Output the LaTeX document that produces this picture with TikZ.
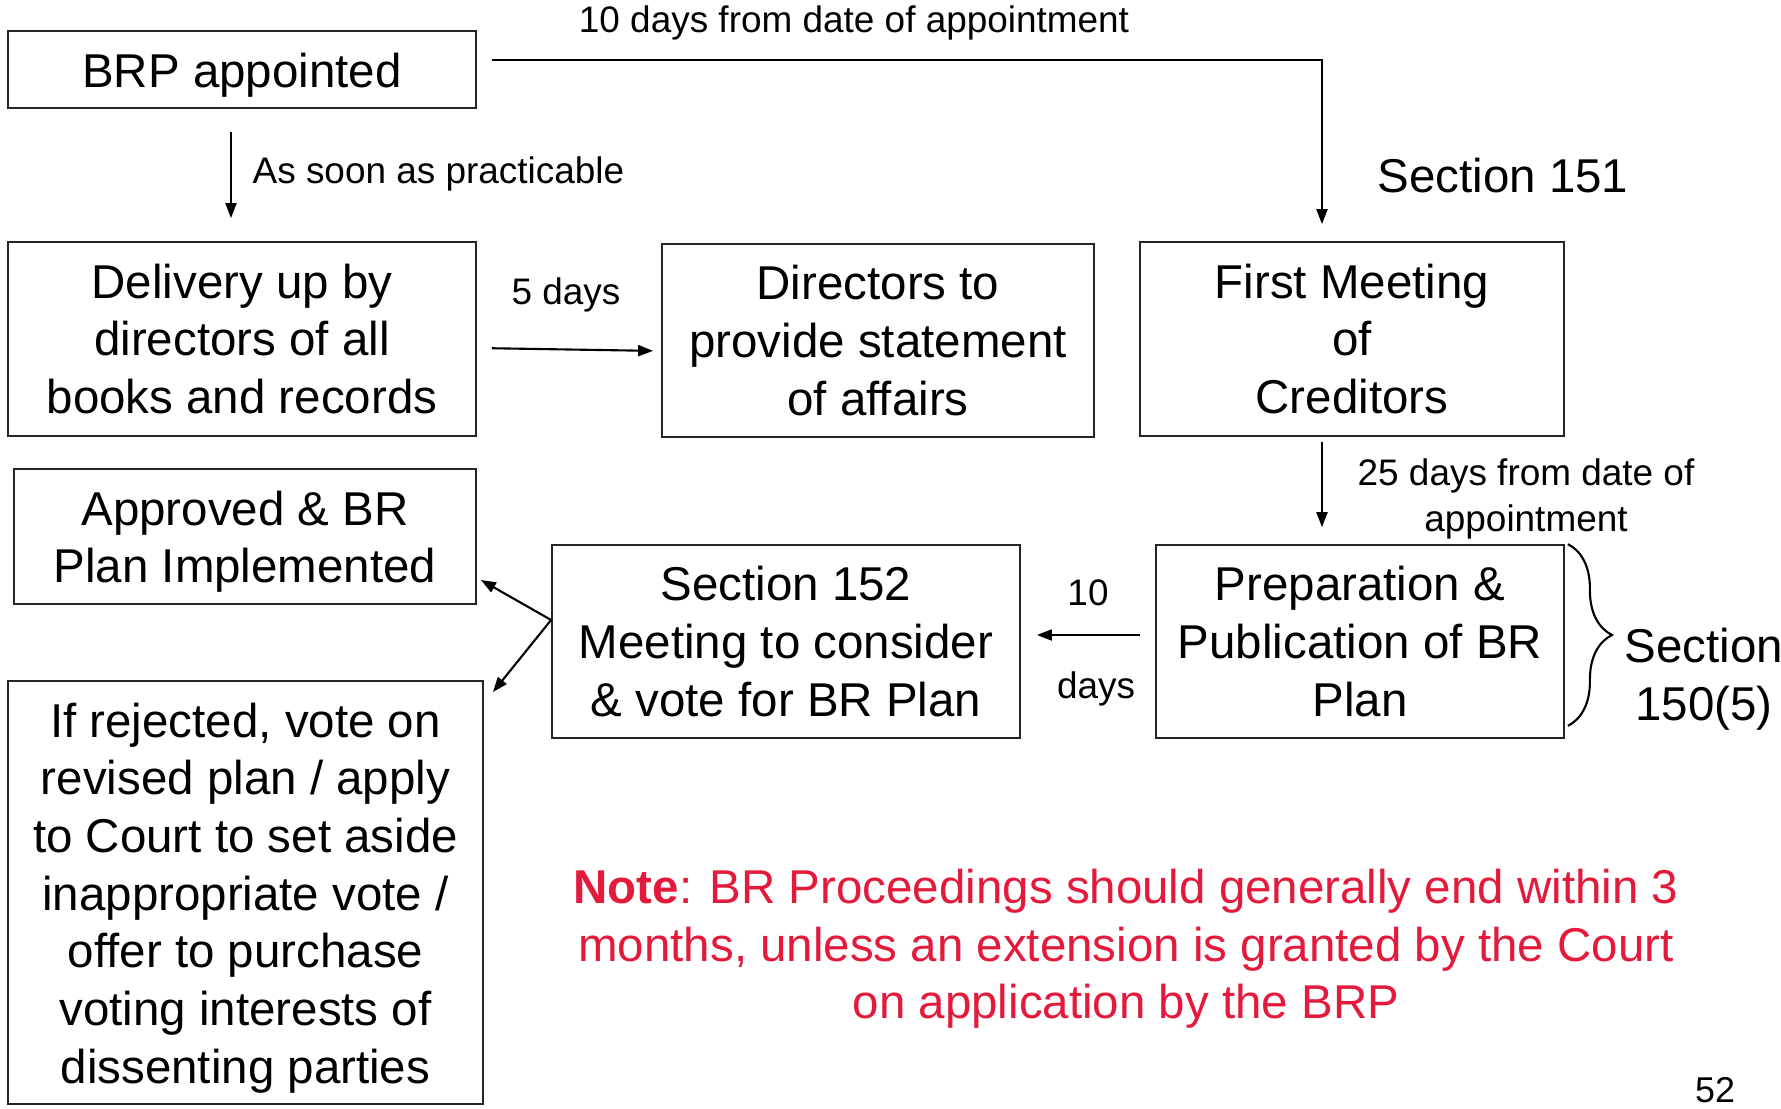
\documentclass[tikz,border=0pt]{standalone}
\usepackage{fontspec}
\setmainfont{Liberation Sans}
\usepackage{tikz}
\usetikzlibrary{arrows.meta,decorations.pathreplacing}
\definecolor{notered}{RGB}{228,26,60}
\newcommand{\topstrut}{\rule{0pt}{0.95em}}
\tikzset{%
    box/.style={draw=black!85, line width=0.45pt, inner sep=0pt, align=center,
        font=\fontsize{13.5}{16.4}\selectfont},
    lbl/.style={inner sep=0pt, align=center, font=\fontsize{10.5}{13.1}\selectfont},
    arr/.style={line width=0.6pt, -{Triangle[length=0.15cm,width=0.11cm]}}
}
\begin{document}
\begin{tikzpicture}[x=0.01cm,y=-0.01cm]
    \useasboundingbox (0,0) rectangle (1781,1109);
%-----------------------------------------------
    \node[box, minimum width=4.68cm, minimum height=0.77cm] (brp) at (242,69.5) {\topstrut BRP appointed};
    \node[box, minimum width=4.68cm, minimum height=1.94cm] (deliv) at (242,339) {Delivery up by\\directors of all\\books and records};
    \node[box, minimum width=4.32cm, minimum height=1.93cm] (dirs) at (878,340.5) {Directors to\\provide statement\\of affairs};
    \node[box, minimum width=4.24cm, minimum height=1.94cm] (fmc) at (1352,339) {First Meeting\\of\\Creditors};
    \node[box, minimum width=4.62cm, minimum height=1.35cm] (appr) at (245,536.5) {\topstrut Approved \& BR\\Plan Implemented};
    \node[box, minimum width=4.68cm, minimum height=1.93cm] (vote) at (786,641.5) {Section 152\\Meeting to consider\\\& vote for BR Plan};
    \node[box, minimum width=4.08cm, minimum height=1.93cm] (prep) at (1360,641.5) {Preparation \&\\Publication of BR\\Plan};
    \node[box, minimum width=4.75cm, minimum height=4.23cm] (rej) at (245.5,892.5) {\topstrut If rejected, vote on\\revised plan / apply\\to Court to set aside\\inappropriate vote /\\offer to purchase\\voting interests of\\dissenting parties};
%-----------------------------------------------
    \draw[arr, shorten <=0.23cm, shorten >=0.23cm] ([xshift=-0.11cm]brp.south) -- ([xshift=-0.11cm]deliv.north);
    \draw[arr, shorten <=0.15cm, shorten >=0.17cm] ([yshift=0.095cm]brp.east) -| ([xshift=-0.3cm]fmc.north);
    \draw[arr, shorten <=0.15cm, shorten >=0.08cm] ([yshift=-0.09cm]deliv.east) -- ([yshift=-0.105cm]dirs.west);
    \draw[arr, shorten <=0.05cm, shorten >=0.17cm] ([xshift=-0.3cm]fmc.south) -- ([xshift=-0.3cm]fmc.south |- prep.north);
    \draw[arr, shorten <=0.15cm, shorten >=0.16cm] ([yshift=0.065cm]prep.west) -- ([yshift=0.065cm]vote.east);
    \coordinate (split) at ([yshift=0.215cm]vote.west);
    \draw[arr] (split) -- ([shift={(4,43.5)}]appr.east);
    \draw[arr] (split) -- ([shift={(9,12)}]rej.north east);
%-----------------------------------------------
    \draw[line width=0.6pt, decorate, decoration={brace, amplitude=0.44cm}]
        ([xshift=0.03cm]prep.north east) -- ([shift={(3,-13)}]prep.south east);
%-----------------------------------------------
    \node[lbl] (l10top) at (854,23) {10 days from date of appointment};
    \node[lbl, anchor=west] (lsoon) at (252,174) {As soon as practicable};
    \node[lbl] (l5) at (566,295) {5 days};
    \node[lbl] (l25) at (1526,499) {25 days from date of\\appointment};
    \node[lbl] (l10) at (1088,593) {10};
    \node[lbl] (ldays) at (1096,689) {days};
    \node[box, draw=none] (s151) at (1503,176) {Section 151};
    \node[box, draw=none] (s150) at (1704,679) {Section\\150(5)};
    \node[box, draw=none, text=notered] (note) at (1126,949) {\textbf{Note}: BR Proceedings should generally end within 3\\months, unless an extension is granted by the Court\\on application by the BRP};
    \node[inner sep=0pt, font=\fontsize{10.2}{12}\selectfont] (page) at (1715,1090) {52};
\end{tikzpicture}
\end{document}
